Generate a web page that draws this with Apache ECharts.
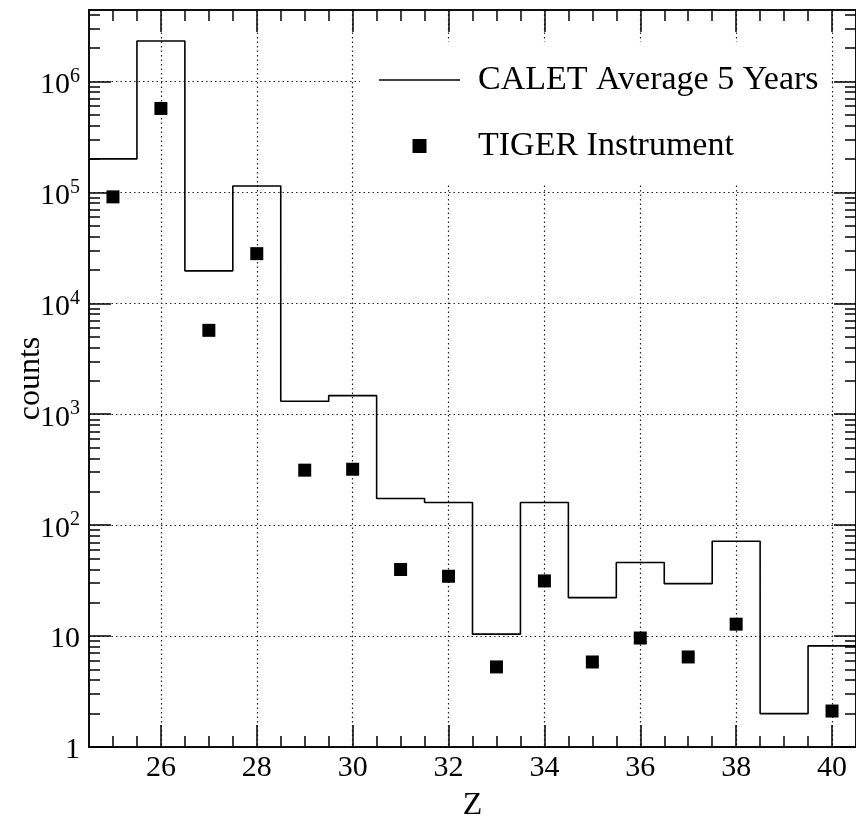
<!DOCTYPE html>
<html>
<head>
<meta charset="utf-8">
<script src="https://cdn.jsdelivr.net/npm/echarts@6/dist/echarts.min.js"></script>
<style>
  html, body { margin: 0; padding: 0; background: #ffffff; }
  #chart { width: 856px; height: 819px; }
</style>
</head>
<body>
<div id="chart"></div>
<script>
// Charge number Z of each histogram bin
const zValues = [25, 26, 27, 28, 29, 30, 31, 32, 33, 34, 35, 36, 37, 38, 39, 40];
// CALET five-year average counts per bin
const caletCounts = [2.0e5, 2.31e6, 1.96e4, 1.14e5, 1.31e3, 1.47e3, 174, 160, 10.4, 160, 22.2, 46.0, 29.7, 71.6, 2.0, 8.15];
// TIGER instrument counts
const tigerZ = [25, 26, 27, 28, 29, 30, 31, 32, 33, 34, 35, 36, 37, 38, 40];
const tigerCounts = [9.1e4, 5.7e5, 5.7e3, 2.8e4, 313, 319, 39.8, 34.6, 5.27, 31.4, 5.84, 9.6, 6.48, 12.8, 2.11];

// Axis ticks and labels
const xTickValues = [26, 28, 30, 32, 34, 36, 38, 40];
const yTickValues = [1, 10, 100, 1e3, 1e4, 1e5, 1e6];
const yTickLabels = ['1', '10', '10^2', '10^3', '10^4', '10^5', '10^6'];
const seriesNames = ['CALET Average 5 Years', 'TIGER Instrument'];
const axisNames = { x: 'Z', y: 'counts' };

const X_MIN = 24.5, X_MAX = 40.5;
const Y_MIN = 1, Y_MAX = 4.4e6;
const FONT = 'Liberation Serif';

// Minor ticks: every half unit on x, 2..9 x 10^k on the log y axis
const xMinor = [];
for (let v = X_MIN + 0.5; v < X_MAX; v += 0.5) {
  if (xTickValues.indexOf(v) < 0) xMinor.push(v);
}
const yMinor = [];
for (let k = 0; k <= 6; k++) {
  for (let m = 2; m <= 9; m++) {
    const v = m * Math.pow(10, k);
    if (v < Y_MAX) yMinor.push(v);
  }
}

// Histogram outline: each bin spans Z-0.5 .. Z+0.5
const histPoints = zValues.map((z, i) => [z - 0.5, caletCounts[i]]);
histPoints.push([zValues[zValues.length - 1] + 0.5, caletCounts[caletCounts.length - 1]]);
const tigerPoints = tigerZ.map((z, i) => [z, tigerCounts[i]]);

const frameLine = { show: true, lineStyle: { color: '#000', width: 1.5 } };

function yLabel(value) {
  const i = yTickValues.findIndex(v => Math.abs(v - value) / v < 1e-6);
  if (i < 0) return '';
  const txt = yTickLabels[i];
  const p = txt.indexOf('^');
  if (p < 0) return '{b|' + txt + '}';
  return '{b|' + txt.slice(0, p) + '}{s|' + txt.slice(p + 1) + '}';
}

function xAxisDef(position, ticks, len, extra) {
  return Object.assign({
    type: 'value', position: position, min: X_MIN, max: X_MAX, splitNumber: 8,
    axisLine: frameLine,
    axisTick: { show: true, inside: true, length: len, customValues: ticks,
                lineStyle: { color: '#000', width: 1.5 } },
    axisLabel: { show: false },
    splitLine: { show: false }
  }, extra || {});
}
function yAxisDef(position, ticks, len, extra) {
  return Object.assign({
    type: 'log', logBase: 10, position: position, min: Y_MIN, max: Y_MAX,
    axisLine: frameLine,
    axisTick: { show: true, inside: true, length: len, customValues: ticks,
                lineStyle: { color: '#000', width: 1.5 } },
    axisLabel: { show: false },
    splitLine: { show: false }
  }, extra || {});
}

const chart = echarts.init(document.getElementById('chart'), null, { renderer: 'canvas' });
chart.setOption({
  backgroundColor: '#ffffff',
  animation: false,
  grid: { left: 89, top: 10, width: 767, height: 737, containLabel: false, outerBoundsMode: 'none' },
  legend: {
    orient: 'vertical',
    left: 360, top: 42,
    padding: [20, 13, 19, 19],
    backgroundColor: '#ffffff',
    itemWidth: 81, itemHeight: 14, itemGap: 30,
    symbolKeepAspect: true,
    textStyle: { fontFamily: FONT, fontSize: 34, color: '#000', lineHeight: 36, padding: [0, 0, 0, 13] },
    data: [
      { name: seriesNames[0], icon: 'path://M0,0L81,0L81,1.6L0,1.6Z' },
      { name: seriesNames[1], icon: 'path://M0,0L10,0L10,10L0,10Z' }
    ]
  },
  xAxis: [
    xAxisDef('bottom', xTickValues, 22, {
      axisLabel: { show: true, customValues: xTickValues, fontFamily: FONT, fontSize: 30, color: '#000', margin: 6 },
      splitLine: { show: true, lineStyle: { color: '#222', width: 1.2, type: [1.5, 3] } },
      name: axisNames.x, nameLocation: 'middle', nameGap: 43, nameMoveOverlap: false,
      nameTextStyle: { fontFamily: FONT, fontSize: 32, color: '#000' }
    }),
    xAxisDef('bottom', xMinor, 11),
    xAxisDef('top', xTickValues, 22),
    xAxisDef('top', xMinor, 11)
  ],
  yAxis: [
    yAxisDef('left', yTickValues, 22, {
      axisLabel: {
        show: true, customValues: yTickValues, margin: 9, formatter: yLabel,
        rich: {
          b: { fontFamily: FONT, fontSize: 30, color: '#000', lineHeight: 30, padding: [7, 0, 0, 0] },
          s: { fontFamily: FONT, fontSize: 20, color: '#000', lineHeight: 20, verticalAlign: 'top' }
        }
      },
      splitLine: { show: true, lineStyle: { color: '#222', width: 1.2, type: [1.5, 3] } },
      name: axisNames.y, nameLocation: 'middle', nameGap: 42, nameMoveOverlap: false,
      nameTextStyle: { fontFamily: FONT, fontSize: 32, color: '#000' }
    }),
    yAxisDef('left', yMinor, 11),
    yAxisDef('right', yTickValues, 22),
    yAxisDef('right', yMinor, 11)
  ],
  series: [
    {
      name: seriesNames[0], type: 'line', step: 'end',
      xAxisIndex: 0, yAxisIndex: 0,
      data: histPoints, symbol: 'none',
      lineStyle: { color: '#000', width: 1.6 },
      itemStyle: { color: '#000' },
      z: 3
    },
    {
      name: seriesNames[1], type: 'scatter',
      xAxisIndex: 0, yAxisIndex: 0,
      data: tigerPoints, symbol: 'rect', symbolSize: 13,
      itemStyle: { color: '#000', opacity: 1 },
      z: 4
    }
  ]
});
</script>
</body>
</html>
